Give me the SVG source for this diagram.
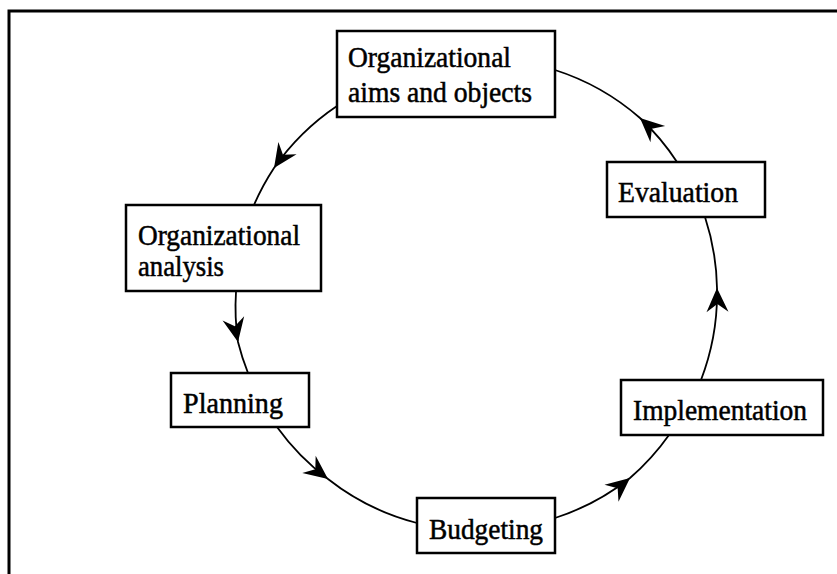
<svg xmlns="http://www.w3.org/2000/svg" width="837" height="574" viewBox="0 0 837 574">
  <style>
    .frame { fill: none; stroke: #000; stroke-width: 3; }
    .box { fill: #fff; stroke: #000; stroke-width: 2.5; }
    .label { font-family: "Liberation Serif", "Times New Roman", serif; font-size: 28.5px; fill: #000; stroke: #000; stroke-width: 0.5; }
    .link { fill: none; stroke: #000; stroke-width: 1.8; marker-mid: url(#dart); }
  </style>
  <defs>
    <marker id="dart" viewBox="-27 -13 29 26" markerWidth="29" markerHeight="26" refX="0" refY="0" orient="auto" markerUnits="userSpaceOnUse" overflow="visible">
      <path d="M0,0 L-24,-11 L-16,0 L-24,11 Z" fill="#000"/>
    </marker>
  </defs>

  <rect width="837" height="574" fill="#fff"/>

  <!-- open frame: top and left edges only -->
  <path class="frame" d="M9,574 L9,11 L837,11"/>

  <!-- cycle connectors, each passing through its arrowhead -->
  <g id="connectors">
    <path class="link" d="M337,106 A240,240 0 0 0 274,168 A240,240 0 0 0 254,205"/>
    <path class="link" d="M236,292 A240,240 0 0 0 238,342 A240,240 0 0 0 248,373"/>
    <path class="link" d="M277,427 A240,240 0 0 0 328,479 A240,240 0 0 0 417,523"/>
    <path class="link" d="M555,518 A240,240 0 0 0 630,478 A240,240 0 0 0 669,435"/>
    <path class="link" d="M701,380 A240,240 0 0 0 717,288 A240,240 0 0 0 705,217"/>
    <path class="link" d="M677,162 A240,240 0 0 0 640,118 A240,240 0 0 0 555,70"/>
  </g>

  <g id="aims">
    <rect class="box" x="337" y="31" width="218" height="86"/>
    <text class="label" x="348" y="67" textLength="163" lengthAdjust="spacingAndGlyphs">Organizational</text>
    <text class="label" x="348" y="102" textLength="184" lengthAdjust="spacingAndGlyphs">aims and objects</text>
  </g>

  <g id="analysis">
    <rect class="box" x="126" y="205" width="195" height="86"/>
    <text class="label" x="138" y="245" textLength="162" lengthAdjust="spacingAndGlyphs">Organizational</text>
    <text class="label" x="138" y="276" textLength="86" lengthAdjust="spacingAndGlyphs">analysis</text>
  </g>

  <g id="planning">
    <rect class="box" x="171" y="373" width="138" height="54"/>
    <text class="label" x="183" y="413" textLength="100" lengthAdjust="spacingAndGlyphs">Planning</text>
  </g>

  <g id="budgeting">
    <rect class="box" x="417" y="498" width="138" height="55"/>
    <text class="label" x="429" y="539" textLength="114" lengthAdjust="spacingAndGlyphs">Budgeting</text>
  </g>

  <g id="implementation">
    <rect class="box" x="621" y="380" width="202" height="55"/>
    <text class="label" x="633" y="420" textLength="174" lengthAdjust="spacingAndGlyphs">Implementation</text>
  </g>

  <g id="evaluation">
    <rect class="box" x="607" y="162" width="158" height="55"/>
    <text class="label" x="618" y="202" textLength="120" lengthAdjust="spacingAndGlyphs">Evaluation</text>
  </g>
</svg>
